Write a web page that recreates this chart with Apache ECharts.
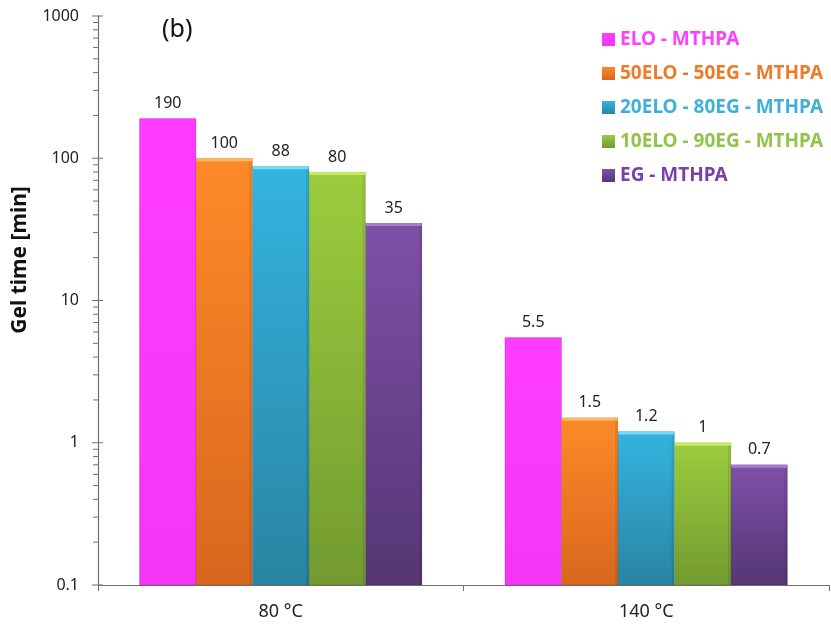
<!DOCTYPE html>
<html>
<head>
<meta charset="utf-8">
<script src="https://cdn.jsdelivr.net/npm/echarts@6/dist/echarts.min.js"></script>
<style>html,body{margin:0;padding:0;background:#fff}#c{width:831px;height:633px}</style>
</head>
<body>
<div id="c"></div>
<script>
const categories = ['80 °C', '140 °C'];
const seriesNames = ['ELO - MTHPA', '50ELO - 50EG - MTHPA', '20ELO - 80EG - MTHPA', '10ELO - 90EG - MTHPA', 'EG - MTHPA'];
const elo = [190, 5.5];
const elo50 = [100, 1.5];
const elo20 = [88, 1.2];
const elo10 = [80, 1];
const eg = [35, 0.7];
const yTicks = [0.1, 1, 10, 100, 1000];
const yMinorTicks = [0.2, 0.3, 0.4, 0.5, 0.6, 0.7, 0.8, 0.9, 2, 3, 4, 5, 6, 7, 8, 9,
  20, 30, 40, 50, 60, 70, 80, 90, 200, 300, 400, 500, 600, 700, 800, 900];

const values = [elo, elo50, elo20, elo10, eg];
const topColors = ['#ff3cff', '#fd8a28', '#33b4e0', '#9ccd3d', '#7f50a8'];
const bottomColors = ['#f535f5', '#d8671e', '#2a84a2', '#729a30', '#553774'];
const bevelColors = [null, '#ffc070', '#8ae4fa', '#d2f070', '#b08ad8'];
const textColors = ['#ff40ff', '#f07a28', '#3fb1d8', '#92c44a', '#7a3fa8'];
const font = '"Noto Sans", "Open Sans", sans-serif';
const axisColor = '#707070';
const catGap = 0.227;
const yMin = 0.1;

function grad(i) {
  return new echarts.graphic.LinearGradient(0, 0, 0, 1, [
    { offset: 0, color: topColors[i] },
    { offset: 1, color: bottomColors[i] }
  ]);
}

function barSeries(i) {
  return {
    name: seriesNames[i],
    type: 'custom',
    coordinateSystem: 'cartesian2d',
    encode: { x: 0, y: 1 },
    itemStyle: { color: grad(i) },
    data: values[i].map((v, ci) => [ci, v]),
    renderItem: function (params, api) {
      const ci = api.value(0), v = api.value(1);
      const top = api.coord([ci, v]);
      const base = api.coord([ci, yMin]);
      const band = api.size([1, 0])[0];
      const bw = band * (1 - catGap) / values.length;
      const x0 = top[0] - bw * values.length / 2 + i * bw;
      const h = base[1] - top[1];
      const children = [
        { type: 'rect', shape: { x: x0, y: top[1], width: bw, height: h },
          style: { fill: grad(i), stroke: i === 0 ? 'rgba(120,0,140,0.35)' : 'rgba(0,0,0,0.15)', lineWidth: 0.6 } }
      ];
      if (bevelColors[i]) {
        children.push({ type: 'rect', shape: { x: x0 + 0.5, y: top[1], width: bw - 1, height: 3 },
          style: { fill: bevelColors[i], opacity: 0.8 } });
        children.push({ type: 'rect', shape: { x: x0 + bw - 3, y: top[1] + 3, width: 2.5, height: Math.max(h - 3, 0) },
          style: { fill: 'rgba(0,0,0,0.08)' } });
      }
      children.push({ type: 'text', x: x0 + bw / 2, y: top[1] - 7,
        style: { text: String(v), fontFamily: font, fontSize: 16, fill: '#222', align: 'center', verticalAlign: 'bottom' } });
      return { type: 'group', children: children };
    }
  };
}

const tickData = yTicks.map(t => [0, t, 1]).concat(yMinorTicks.map(t => [0, t, 0]));

const chart = echarts.init(document.getElementById('c'));
chart.setOption({
  animation: false,
  backgroundColor: '#fff',
  grid: { left: 98, right: 2, top: 16, bottom: 48, containLabel: false },
  legend: {
    orient: 'vertical',
    left: 597, top: 25,
    itemWidth: 13, itemHeight: 13, itemGap: 15,
    icon: 'rect',
    data: seriesNames.map((n, i) => ({ name: n, textStyle: { color: textColors[i] } })),
    textStyle: { fontFamily: font, fontWeight: 'bold', fontSize: 19 }
  },
  graphic: [
    { type: 'text', left: 162, top: 17, style: { text: '(b)', fontFamily: font, fontSize: 25, fill: '#111' } },
    { type: 'text', x: 20, y: 260, rotation: Math.PI / 2, style: { text: 'Gel time [min]', fontFamily: font, fontSize: 21, fontWeight: 'bold', fill: '#111', align: 'center', verticalAlign: 'middle' } }
  ],
  xAxis: {
    type: 'category',
    data: categories,
    axisLine: { lineStyle: { color: axisColor, width: 1.2 } },
    axisTick: { show: true, length: 6, lineStyle: { color: axisColor } },
    axisLabel: { fontFamily: font, fontSize: 18, color: '#222', margin: 18 }
  },
  yAxis: {
    type: 'log',
    logBase: 10,
    min: yMin, max: 1000,
    axisLine: { show: true, lineStyle: { color: axisColor, width: 1.2 } },
    axisTick: { show: false },
    splitLine: { show: false },
    axisLabel: {
      fontFamily: font, fontSize: 16, color: '#222', margin: 19,
      formatter: v => { const t = yTicks.find(x => Math.abs(x - v) / x < 1e-6); return t !== undefined ? String(t) : ''; }
    }
  },
  series: values.map((d, i) => barSeries(i)).concat([{
    type: 'custom',
    name: 'ticks',
    silent: true,
    coordinateSystem: 'cartesian2d',
    encode: { x: 0, y: 1 },
    data: tickData,
    clip: false,
    renderItem: function (params, api) {
      const y = api.coord([0, api.value(1)])[1];
      const x = params.coordSys.x;
      const major = api.value(2) === 1;
      return { type: 'line', shape: { x1: x - (major ? 6 : 5), y1: y, x2: x + (major ? 5 : 1), y2: y },
        style: { stroke: axisColor, lineWidth: 1 } };
    }
  }])
});
</script>
</body>
</html>
